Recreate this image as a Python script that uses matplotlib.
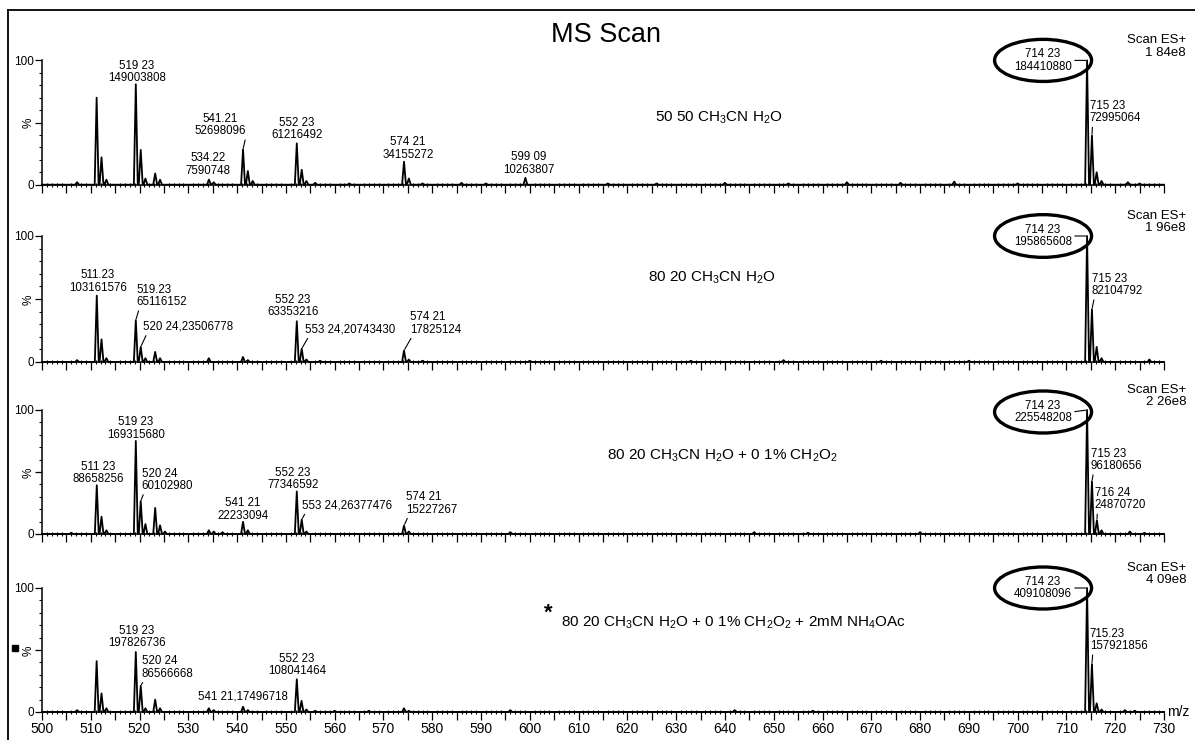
import matplotlib
matplotlib.use("Agg")
import matplotlib.pyplot as plt
from matplotlib.patches import Ellipse, Rectangle
from matplotlib.lines import Line2D
from matplotlib.ticker import MultipleLocator, FuncFormatter

plt.rcParams['font.family'] = ['Liberation Sans', 'DejaVu Sans']
plt.rcParams['mathtext.default'] = 'regular'

# ---- spectra ----
solvents = [
    r"50 50 CH$_3$CN H$_2$O",
    r"80 20 CH$_3$CN H$_2$O",
    r"80 20 CH$_3$CN H$_2$O + 0 1% CH$_2$O$_2$",
    r"80 20 CH$_3$CN H$_2$O + 0 1% CH$_2$O$_2$ + 2mM NH$_4$OAc",
]
scale_text = ["1 84e8", "1 96e8", "2 26e8", "4 09e8"]
base_counts = [184410880, 195865608, 225548208, 409108096]

# labelled peaks: m/z, counts, printed text
p1_mz = [519.23, 534.22, 541.21, 552.23, 574.21, 599.09, 714.23, 715.23]
p1_counts = [149003808, 7590748, 52698096, 61216492, 34155272, 10263807, 184410880, 72995064]
p1_text = ["519 23\n149003808", "534.22\n7590748", "541.21\n52698096", "552 23\n61216492",
           "574 21\n34155272", "599 09\n10263807", "714 23\n184410880", "715 23\n72995064"]

p2_mz = [511.23, 519.23, 520.24, 552.23, 553.24, 574.21, 714.23, 715.23]
p2_counts = [103161576, 65116152, 23506778, 63353216, 20743430, 17825124, 195865608, 82104792]
p2_text = ["511.23\n103161576", "519.23\n65116152", "520 24,23506778", "552 23\n63353216",
           "553 24,20743430", "574 21\n17825124", "714 23\n195865608", "715 23\n82104792"]

p3_mz = [511.23, 519.23, 520.24, 541.21, 552.23, 553.24, 574.21, 714.23, 715.23, 716.24]
p3_counts = [88658256, 169315680, 60102980, 22233094, 77346592, 26377476, 15227267,
             225548208, 96180656, 24870720]
p3_text = ["511 23\n88658256", "519 23\n169315680", "520 24\n60102980", "541 21\n22233094",
           "552 23\n77346592", "553 24,26377476", "574 21\n15227267", "714 23\n225548208",
           "715 23\n96180656", "716 24\n24870720"]

p4_mz = [519.23, 520.24, 541.21, 552.23, 714.23, 715.23]
p4_counts = [197826736, 86566668, 17496718, 108041464, 409108096, 157921856]
p4_text = ["519 23\n197826736", "520 24\n86566668", "541 21,17496718", "552 23\n108041464",
           "714 23\n409108096", "715.23\n157921856"]

# unlabelled peaks and isotopes, % of base peak
p1_other_mz = [507.2, 511.2, 512.2, 513.2, 520.24, 521.2, 523.2, 524.2, 535.2, 542.2, 543.2,
               553.24, 554.2, 556.0, 563.0, 575.2, 578.0, 586.0, 591.0, 616.0, 626.0, 640.0,
               653.0, 665.0, 676.0, 687.0, 700.0, 716.2, 717.2, 722.6, 725.0]
p1_other_pct = [2, 70, 22, 4, 28, 5, 9, 4, 2, 11, 3,
                12, 3, 1.5, 1, 5, 1, 1.5, 1, 1, 1, 1.5,
                1, 2, 1.5, 2.5, 1, 10, 3, 2, 1]

p2_other_mz = [507.2, 512.2, 513.2, 521.2, 523.2, 524.2, 534.2, 541.2, 542.2, 554.2, 557.0,
               575.2, 578.0, 600.0, 633.0, 652.0, 672.0, 690.0, 716.2, 717.2, 727.0]
p2_other_pct = [1.5, 18, 3, 3, 8, 3, 3, 4, 1.5, 2, 1,
                2, 1, 1, 1, 1.5, 1, 1, 12, 3, 2]

p3_other_mz = [506.0, 512.2, 513.2, 521.2, 523.2, 524.2, 525.2, 534.2, 535.2, 537.0, 542.2,
               554.2, 575.2, 596.0, 646.0, 657.0, 680.0, 717.2, 723.0, 726.0]
p3_other_pct = [1, 14, 3, 8, 21, 7, 2, 3, 2, 1.5, 3,
                2, 2, 1.5, 1.5, 1, 1.5, 3, 2, 1]

p4_other_mz = [507.2, 511.2, 512.2, 513.2, 521.2, 523.2, 524.2, 534.2, 535.2, 542.2, 553.2,
               554.2, 556.0, 560.0, 567.0, 574.2, 575.2, 596.0, 642.0, 658.0, 716.2, 717.2,
               722.0, 724.0]
p4_other_pct = [1.5, 41, 15, 3, 3, 10, 3, 3, 1.5, 1.5, 9,
                2, 1, 1, 1, 3, 1, 1.5, 1.5, 1, 7, 2,
                1.5, 1]

# label placement: dx px, dy px, horizontal alignment, leader line
p1_layout = [(1, 0, 'center', False), (-1, 3, 'center', False), (-23, 12, 'center', True),
             (0, 2, 'center', False), (4, 1, 'center', False), (3, 2, 'center', False),
             (-44, 0, 'center', True), (-2, 11, 'left', True)]
p2_layout = [(1, 2, 'center', False), (1, 12, 'left', True), (2, 14, 'left', True),
             (-4, 3, 'center', False), (3, 13, 'left', True), (6, 15, 'left', True),
             (-44, 0, 'center', True), (0, 12, 'left', True)]
p3_layout = [(1, 0, 'center', False), (0, 0, 'center', False), (1, 9, 'left', True),
             (0, 0, 'center', False), (-4, 0, 'center', False), (0, 8, 'left', True),
             (2, 10, 'left', True), (-44, -2, 'center', True), (-1, 9, 'left', True),
             (-2, 9, 'left', True)]
p4_layout = [(1, 3, 'center', False), (1, 6, 'left', True), (0, 4, 'center', False),
             (0, 2, 'center', False), (-44, 0, 'center', True), (-2, 12, 'left', True)]

panels = [
    (p1_mz, p1_counts, p1_text, p1_other_mz, p1_other_pct, p1_layout),
    (p2_mz, p2_counts, p2_text, p2_other_mz, p2_other_pct, p2_layout),
    (p3_mz, p3_counts, p3_text, p3_other_mz, p3_other_pct, p3_layout),
    (p4_mz, p4_counts, p4_text, p4_other_mz, p4_other_pct, p4_layout),
]

# pixel geometry of the page
W, H = 1195, 740
x_left, x_right = 42, 1164
zero_y = [184.7, 362, 534, 712]
full_y = [60.4, 236, 410, 588]
solvent_pos = [(655, 118), (648, 278), (607, 456), (561, 623)]
PX = 0.72  # pixels -> points at 100 dpi


def profile(mz, pct, half=0.4):
    pts = sorted(zip(mz, pct))
    xs, ys = [500], [0]
    for m, p in pts:
        xs += [m - half, m, m + half]
        ys += [0, p, 0]
    xs.append(730)
    ys.append(0)
    return xs, ys


fig = plt.figure(figsize=(W / 100, H / 100), dpi=100)

for i, (mz, counts, texts, omz, opct, layout) in enumerate(panels):
    ax = fig.add_axes([x_left / W, 1 - zero_y[i] / H,
                       (x_right - x_left) / W, (zero_y[i] - full_y[i]) / H])
    base = base_counts[i]
    pct = [c / base * 100 for c in counts]
    xs, ys = profile(list(mz) + omz, pct + opct)
    ax.plot(xs, ys, color='black', lw=1.3, clip_on=False)

    ax.set_xlim(500, 730)
    ax.set_ylim(0, 100)
    for s in ('top', 'right'):
        ax.spines[s].set_visible(False)
    ax.spines['left'].set_bounds(0, 100)
    ax.spines['left'].set_linewidth(1.1)
    ax.spines['bottom'].set_linewidth(1.1)

    ax.xaxis.set_major_locator(MultipleLocator(5))
    ax.xaxis.set_minor_locator(MultipleLocator(1))
    if i == 3:
        ax.xaxis.set_major_formatter(FuncFormatter(
            lambda v, p: f"{v:.0f}" if round(v) % 10 == 0 else ""))
    else:
        ax.set_xticklabels([])
    ax.tick_params(axis='x', which='major', direction='out', length=5.5, width=0.9,
                   labelsize=10, pad=2)
    ax.tick_params(axis='x', which='minor', direction='inout', length=3, width=0.8)

    ax.set_yticks([0, 50, 100])
    ax.set_yticklabels(['0', '%', '100'])
    ax.get_yticklabels()[1].set_rotation(90)
    ax.yaxis.set_minor_locator(MultipleLocator(10))
    ax.tick_params(axis='y', which='major', direction='out', length=5, width=0.9,
                   labelsize=8.5, pad=0.5)
    ax.tick_params(axis='y', which='minor', direction='out', length=2.5, width=0.8)

    # peak annotations
    for m, p, t, (dx, dy, ha, lead), c in zip(mz, pct, texts, layout, counts):
        is_base = c == base
        va = 'center' if is_base else 'bottom'
        arrow = None
        if lead:
            if is_base:
                rel = (1, 0.5)
            elif ha == 'left':
                rel = (0.05, 0)
            else:
                rel = (1, 0)
            arrow = dict(arrowstyle='-', lw=0.8, color='black', shrinkA=0, shrinkB=1,
                         relpos=rel)
        ax.annotate(t, xy=(m, p), xytext=(dx * PX, dy * PX), textcoords='offset points',
                    ha=ha, va=va, fontsize=8.3, linespacing=1.05, arrowprops=arrow,
                    annotation_clip=False)
        if is_base:
            ax.add_patch(Ellipse((m - 44 / 4.878, p + dy / 1.24), 97 / 4.878, 42 / 1.24,
                                 fill=False, lw=2.4, ec='black', clip_on=False))

    fig.text(1186 / W, 1 - (full_y[i] - 14) / H, "Scan ES+\n" + scale_text[i],
             ha='right', va='center', fontsize=9.5, linespacing=1.1, multialignment='right')
    sx, sy = solvent_pos[i]
    fig.text(sx / W, 1 - sy / H, solvents[i], ha='left', va='center', fontsize=11)

    if i == 3:
        ax.annotate('m/z', xy=(1, 0), xycoords='axes fraction', xytext=(2, 0),
                    textcoords='offset points', ha='left', va='center', fontsize=10)

fig.text(548 / W, 1 - 613 / H, '*', ha='center', va='center', fontsize=16,
         fontweight='bold')
fig.text(606 / W, 1 - 35 / H, 'MS Scan', ha='center', va='center', fontsize=19.5)

# page frame and marker
fig.add_artist(Line2D([8 / W, 8 / W], [0, 1 - 10 / H], color='black', lw=1.3))
fig.add_artist(Line2D([8 / W, 1], [1 - 10 / H, 1 - 10 / H], color='black', lw=1.3))
fig.add_artist(Rectangle((12 / W, 1 - 651 / H), 6 / W, 6 / H, color='black'))

fig.savefig('out.png', dpi=100)
